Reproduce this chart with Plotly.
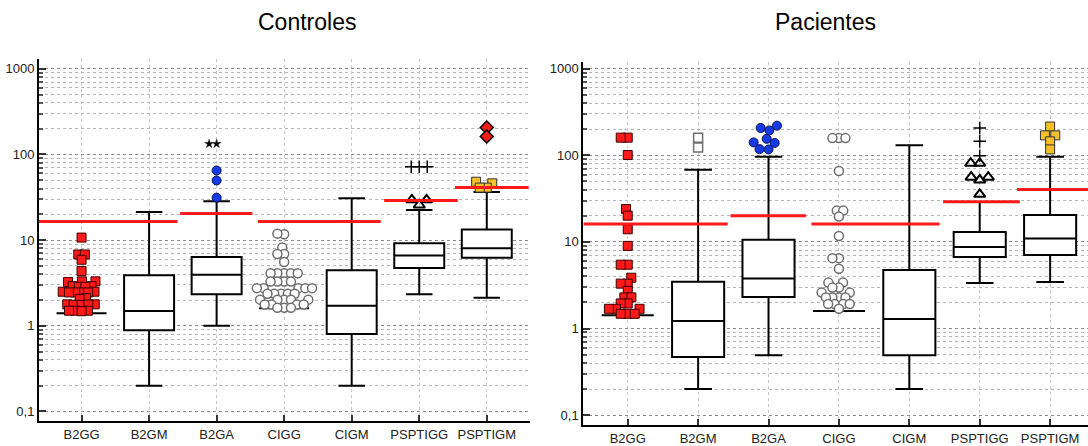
import math
import plotly.graph_objects as go

# ---------------- data ----------------
categories = ["B2GG", "B2GM", "B2GA", "CIGG", "CIGM", "PSPTIGG", "PSPTIGM"]
tick_vals_y = [0.1, 1, 10, 100, 1000]
tick_text_y = ["0,1", "1", "10", "100", "1000"]

# Controles : box statistics (None = no box drawn)
ctrl_q1 = [None, 0.89, 2.33, None, 0.80, 4.74, 6.24]
ctrl_median = [None, 1.49, 3.94, None, 1.71, 6.63, 8.03]
ctrl_q3 = [None, 3.88, 6.34, None, 4.46, 9.17, 13.3]
ctrl_low = [1.4, 0.2, 1.0, 1.6, 0.2, 2.33, 2.12]
ctrl_high = [None, 21.3, 28.5, None, 30.8, 22.5, 36.4]
ctrl_cutoff = [16.5, 16.5, 20.5, 16.5, 16.5, 29.0, 41.0]

ctrl_b2gg_pts = [10.7, 6.8, 6.8, 5.9, 4.35, 3.3, 3.3, 3.25, 2.9, 2.9, 2.85, 2.85,
                 2.5, 2.45, 2.45, 2.45, 2.5, 2.45, 2.1, 2.05, 1.78, 1.78, 1.76,
                 1.75, 1.77, 1.5, 1.5, 1.48, 1.5]
ctrl_cigg_pts = [11.7, 11.9, 8.2, 6.9, 6.9, 5.55, 4.1, 4.1, 4.1, 4.1, 4.1,
                 3.28, 3.28, 3.28, 3.28, 2.75, 2.75, 2.75, 2.75, 2.75,
                 2.37, 2.37, 2.37, 2.37, 2.37, 2.02, 2.02, 2.02, 2.02, 2.02,
                 1.77, 1.77, 1.77, 1.77, 1.62, 1.62, 1.62]
ctrl_b2ga_out = [65, 49.6, 31.3]
ctrl_b2ga_far = [133, 133]
ctrl_psptigg_out = [29.5, 29.5, 25.7]
ctrl_psptigg_far = [71.8, 71.8, 71.8]
ctrl_psptigm_out = [48, 46, 41, 41]
ctrl_psptigm_far = [206, 162]

# Pacientes
pat_q1 = [None, 0.47, 2.32, None, 0.49, 6.72, 7.08]
pat_median = [None, 1.22, 3.79, None, 1.29, 8.73, 10.96]
pat_q3 = [None, 3.47, 10.6, None, 4.75, 13.0, 20.5]
pat_low = [1.42, 0.2, 0.49, 1.59, 0.2, 3.35, 3.44]
pat_high = [None, 68, 96.4, None, 131, 29, 96.4]
pat_cutoff = [16.1, 16.1, 20.1, 16.1, 16.1, 29.2, 40.4]

pat_b2gg_pts = [160, 160, 100.7, 24, 20.1, 14, 9.0, 5.46, 5.46, 3.86, 3.3, 3.3,
                2.72, 2.29, 2.29, 1.95, 1.95, 1.69, 1.69, 1.69, 1.48, 1.48, 1.48]
pat_b2gm_out = [160, 123]
pat_b2ga_out = [220, 207, 194, 155, 141, 139, 118, 117]
pat_cigg_pts = [158, 158, 158, 66, 23, 23, 19.6, 11.7, 6.5, 6.5, 4.9, 3.39, 3.39,
                2.97, 2.97, 2.6, 2.6, 2.29, 2.29, 2.29, 2.29, 1.92, 1.92, 1.92,
                1.92, 1.69]
pat_psptigg_out = [81, 81, 56, 56, 52, 35.5]
pat_psptigg_far = [207, 145, 99]
pat_psptigm_out = [215, 170, 170, 145, 117]

# ---------------- style / layout constants ----------------
FONT = "Liberation Sans, Arial, sans-serif"
RED = "#FF1A1A"
BLUE = "#1639E6"
YELLOW = "#F4C02A"
BOX_W = 0.74
# red reference-line spans (category units) per group of categories
RED_SPANS = [((0, 1), -0.63, 1.42), ((2,), 1.46, 2.53), ((3, 4), 2.61, 4.43),
             ((5,), 4.48, 5.57), ((6,), 5.53, 6.62)]

W, H = 1088, 446
panels = [
    dict(xa="x", ya="y", xdom=(39, 530), ydom=(60, 429), xr=(-0.63, 6.64),
         yr=(-1.1146, 3.1146)),
    dict(xa="x2", ya="y2", xdom=(583.3, 1088), ydom=(63, 432.7), xr=(-0.631, 6.538),
         yr=(-1.113, 3.079)),
]
for p in panels:
    p["pxx"] = (p["xdom"][1] - p["xdom"][0]) / (p["xr"][1] - p["xr"][0])
    p["pxd"] = (p["ydom"][1] - p["ydom"][0]) / (p["yr"][1] - p["yr"][0])


def swarm(values, pxx, pxd, d):
    """Deterministic beeswarm: returns x offsets (category units)."""
    ys = [math.log10(v) * pxd for v in values]
    order = sorted(range(len(values)), key=lambda i: ys[i])
    placed = []
    offs = [0.0] * len(values)
    for i in order:
        y = ys[i]
        near = [(px, py) for px, py in placed if abs(py - y) < d]
        cands = [0.0]
        for px, py in near:
            dx = math.sqrt(max(d * d - (py - y) ** 2, 0))
            cands += [px - dx, px + dx]
        cands.sort(key=lambda c: (abs(c), c))
        x = 0.0
        for c in cands:
            if all((c - px) ** 2 + (y - py) ** 2 >= d * d - 1e-6 for px, py in near):
                x = c
                break
        placed.append((x, y))
        offs[i] = x / pxx
    return offs


fig = go.Figure()


def add_points(p, cat, vals, marker, d=9.0):
    offs = swarm(vals, p["pxx"], p["pxd"], d)
    pos = categories.index(cat)
    fig.add_trace(go.Scatter(
        x=[pos + o for o in offs], y=vals, mode="markers", marker=marker,
        xaxis=p["xa"], yaxis=p["ya"], showlegend=False, hoverinfo="y"))


def add_panel(p, q1, med, q3, low, high):
    for i, cat in enumerate(categories):
        if q1[i] is not None:
            fig.add_trace(go.Box(
                x=[i], q1=[q1[i]], median=[med[i]], q3=[q3[i]],
                lowerfence=[low[i]], upperfence=[high[i]], width=BOX_W,
                whiskerwidth=0.53, fillcolor="white",
                line=dict(color="black", width=2), boxpoints=False,
                xaxis=p["xa"], yaxis=p["ya"], showlegend=False))
        else:
            fig.add_trace(go.Scatter(
                x=[i - BOX_W / 2, i + BOX_W / 2], y=[low[i], low[i]], mode="lines",
                line=dict(color="black", width=2), xaxis=p["xa"], yaxis=p["ya"],
                showlegend=False, hoverinfo="skip"))


sq_red = dict(symbol="square", size=9, color=RED, line=dict(color="#3a0000", width=1))
circ_open = dict(symbol="circle", size=9, color="white", line=dict(color="#6e6e6e", width=1.5))
circ_blue = dict(symbol="circle", size=9, color=BLUE, line=dict(color="#0a1450", width=1))
sq_yel = dict(symbol="square", size=9, color=YELLOW, line=dict(color="#333333", width=1))
tri_open = dict(symbol="triangle-up-open", size=10, color="black", line=dict(color="black", width=2))
plus_thin = dict(symbol="cross-thin", size=9, color="black", line=dict(color="black", width=1.5))
star_blk = dict(symbol="star", size=7, color="black", line=dict(color="#555555", width=0.5))
dia_red = dict(symbol="diamond", size=10, color=RED, line=dict(color="black", width=1.5))
sq_open = dict(symbol="square", size=9, color="white", line=dict(color="#6e6e6e", width=1.5))

pc, pp = panels
add_panel(pc, ctrl_q1, ctrl_median, ctrl_q3, ctrl_low, ctrl_high)
add_panel(pp, pat_q1, pat_median, pat_q3, pat_low, pat_high)

# Controles points
add_points(pc, "B2GG", ctrl_b2gg_pts, sq_red, 6.3)
add_points(pc, "CIGG", ctrl_cigg_pts, circ_open, 6.8)
add_points(pc, "B2GA", ctrl_b2ga_out, circ_blue)
add_points(pc, "B2GA", ctrl_b2ga_far, star_blk, 7.5)
add_points(pc, "PSPTIGG", ctrl_psptigg_out, tri_open)
add_points(pc, "PSPTIGG", ctrl_psptigg_far, plus_thin, 8)
add_points(pc, "PSPTIGM", ctrl_psptigm_out, sq_yel, 7)
add_points(pc, "PSPTIGM", ctrl_psptigm_far, dia_red)

# Pacientes points
add_points(pp, "B2GG", pat_b2gg_pts, sq_red, 7.0)
add_points(pp, "B2GM", pat_b2gm_out, sq_open)
add_points(pp, "B2GA", pat_b2ga_out, circ_blue, 9)
add_points(pp, "CIGG", pat_cigg_pts, circ_open, 6.5)
add_points(pp, "PSPTIGG", pat_psptigg_out, tri_open, 9)
add_points(pp, "PSPTIGG", pat_psptigg_far, plus_thin)
add_points(pp, "PSPTIGM", pat_psptigm_out, sq_yel, 8)

# red reference lines
for p, cut in ((pc, ctrl_cutoff), (pp, pat_cutoff)):
    for cats_idx, x0, x1 in RED_SPANS:
        v = cut[cats_idx[0]]
        fig.add_trace(go.Scatter(
            x=[x0, x1], y=[v, v], mode="lines", line=dict(color=RED, width=3),
            xaxis=p["xa"], yaxis=p["ya"], showlegend=False, hoverinfo="skip"))

minor_vals = [m * 10 ** e for e in range(-1, 3) for m in range(2, 10)]


def xaxis_cfg(p):
    return dict(domain=[p["xdom"][0] / W, min(p["xdom"][1] / W, 1)], range=list(p["xr"]),
                tickvals=list(range(len(categories))), ticktext=categories,
                ticks="inside", ticklen=6, tickwidth=1.5, tickcolor="#333",
                showline=True, linecolor="black", linewidth=2,
                showgrid=True, gridcolor="#c8c8c8", griddash="dot", gridwidth=1,
                zeroline=False, tickfont=dict(family=FONT, size=13, color="#222"),
                anchor=p["ya"], fixedrange=True)


def yaxis_cfg(p):
    return dict(type="log", domain=[1 - p["ydom"][1] / H, 1 - p["ydom"][0] / H],
                range=list(p["yr"]), tickvals=tick_vals_y, ticktext=tick_text_y,
                ticks="inside", ticklen=7, tickwidth=1.5, tickcolor="#333",
                showline=True, linecolor="black", linewidth=2,
                showgrid=True, gridcolor="#8a8a8a", griddash="dot", gridwidth=1,
                minor=dict(tickvals=minor_vals, ticks="inside", ticklen=4,
                           tickcolor="#555", showgrid=True, gridcolor="#b5b5b5",
                           griddash="dot", gridwidth=1),
                zeroline=False, tickfont=dict(family=FONT, size=13, color="#222"),
                anchor=p["xa"], fixedrange=True)


fig.update_layout(
    width=W, height=H, margin=dict(l=0, r=0, t=0, b=0),
    paper_bgcolor="white", plot_bgcolor="white",
    xaxis=xaxis_cfg(pc), yaxis=yaxis_cfg(pc),
    xaxis2=xaxis_cfg(pp), yaxis2=yaxis_cfg(pp),
    showlegend=False,
    annotations=[
        dict(text="Controles", x=307 / W, y=1 - 22 / H, xref="paper", yref="paper",
             xanchor="center", yanchor="middle", showarrow=False,
             font=dict(family=FONT, size=23, color="black")),
        dict(text="Pacientes", x=825 / W, y=1 - 22 / H, xref="paper", yref="paper",
             xanchor="center", yanchor="middle", showarrow=False,
             font=dict(family=FONT, size=23, color="black")),
    ],
)

fig.write_html("out.html", config={"displayModeBar": False},
               post_script="document.body.style.margin='0px';"
                           "document.body.style.overflow='hidden';")
